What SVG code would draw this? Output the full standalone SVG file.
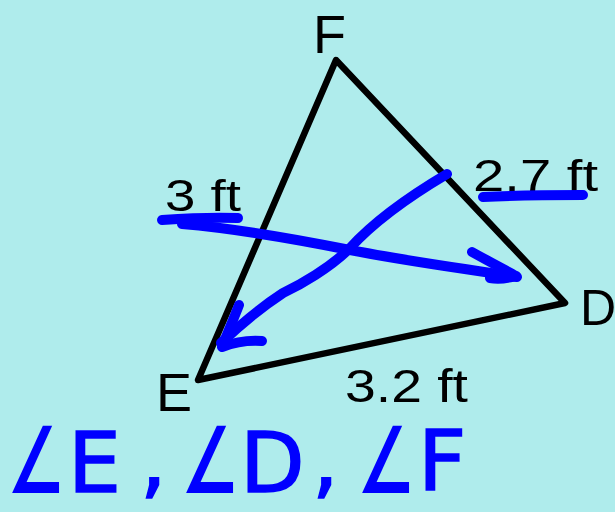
<svg xmlns="http://www.w3.org/2000/svg" width="615" height="512" viewBox="0 0 615 512">
<style>
.lbl{font-family:"Liberation Sans","DejaVu Sans",sans-serif;fill:#000;}
.blue{fill:none;stroke:#0000ff;stroke-width:10;stroke-linecap:round;stroke-linejoin:round;}
.ang{font-family:"DejaVu Sans",sans-serif;fill:#0000ff;stroke:#0000ff;stroke-width:1.5;}
.sym{font-size:64px;}
.let{font-size:84px;}
</style>
<rect width="615" height="512" fill="#afecec"/>
<g id="triangle">
<path d="M336,60 L565,303 L198,380 Z" fill="none" stroke="#000" stroke-width="6.5" stroke-linejoin="round"/>
</g>
<g id="vertex-F"><text class="lbl" x="313" y="53" font-size="54">F</text></g>
<g id="vertex-D"><text class="lbl" x="580" y="325" font-size="50">D</text></g>
<g id="vertex-E"><text class="lbl" x="156" y="411" font-size="54">E</text></g>
<g id="side-labels">
<text class="lbl" x="165" y="211" font-size="44" textLength="76" lengthAdjust="spacingAndGlyphs">3 ft</text>
<text class="lbl" x="473" y="191" font-size="44" textLength="125" lengthAdjust="spacingAndGlyphs">2.7 ft</text>
<text class="lbl" x="345" y="402" font-size="46" textLength="123" lengthAdjust="spacingAndGlyphs">3.2 ft</text>
</g>
<g id="connectors">
<path class="blue" d="M162,220 C190,218 215,217 238,218"/>
<path class="blue" d="M483,197 C520,195 550,195 583,195"/>
<path class="blue" d="M182,224 C230,228 290,238 350,250 C400,260 460,268 517,277"/>
<path class="blue" d="M472,252 C490,262 505,270 516,276 C505,279 495,279 490,278"/>
<path class="blue" d="M447,174 C420,190 380,215 350,248 C330,268 300,285 283,293 C260,308 240,325 221,343"/>
<path class="blue" d="M239,305 C234,318 228,332 222,347 C235,342 248,340 262,341"/>
</g>
<g id="angles">
<text class="ang sym" transform="translate(8,492) scale(1,1.4)">∠</text>
<text class="ang let" x="68" y="492">E</text>
<text class="ang let" x="140" y="488">,</text>
<text class="ang sym" transform="translate(182,492) scale(1,1.4)">∠</text>
<text class="ang let" x="240" y="492">D</text>
<text class="ang let" x="312" y="488">,</text>
<text class="ang sym" transform="translate(358,492) scale(1,1.4)">∠</text>
<text class="ang let" x="418" y="490">F</text>
</g>
</svg>
